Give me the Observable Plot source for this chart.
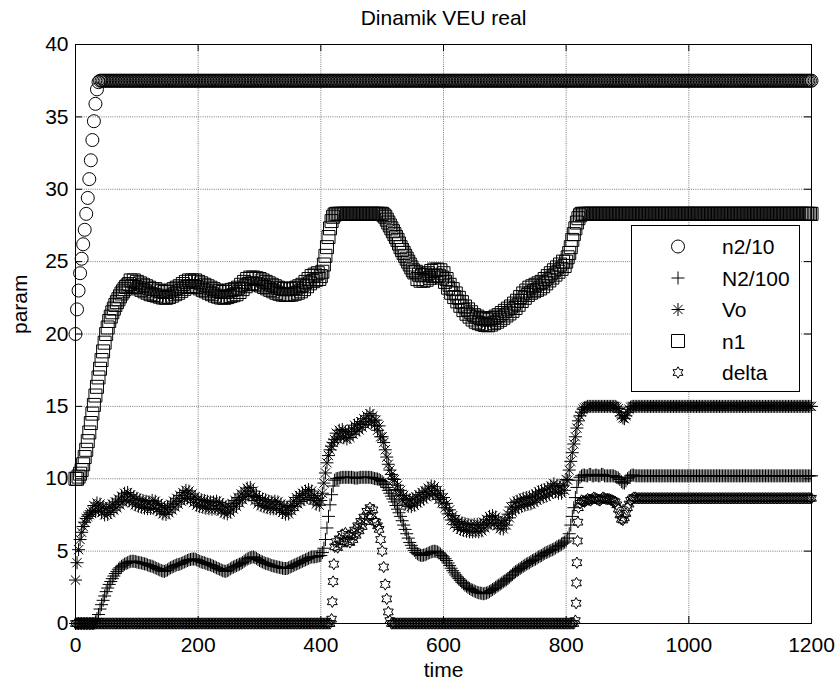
<!DOCTYPE html>
<html><head><meta charset="utf-8">
<script src="https://cdn.jsdelivr.net/npm/d3@7"></script>
<script src="https://cdn.jsdelivr.net/npm/@observablehq/plot@0.6"></script>
<style>
html,body{margin:0;padding:0;background:#fff;}
#chart{width:835px;height:682px;}
#err{position:absolute;left:100px;top:100px;color:red;font:16px sans-serif;}
</style></head><body><div id="chart"></div><div id="err"></div>
<script>
const title = "Dinamik VEU real";
const xLabel = "time";
const yLabel = "param";
const xTicks = [0,200,400,600,800,1000,1200];
const yTicks = [0,5,10,15,20,25,30,35,40];
const seriesNames = ["n2/10","N2/100","Vo","n1","delta"];

// sample times (one row = 50 time units)
const time = [
  0,2.5,5,7.5,10,12.5,15,17.5,20,22.5,25,27.5,30,32.5,35,37.5,40,42.5,45,47.5,
  50,52.5,55,57.5,60,62.5,65,67.5,70,72.5,75,77.5,80,82.5,85,87.5,90,92.5,95,97.5,
  100,102.5,105,107.5,110,112.5,115,117.5,120,122.5,125,127.5,130,132.5,135,137.5,140,142.5,145,147.5,
  150,152.5,155,157.5,160,162.5,165,167.5,170,172.5,175,177.5,180,182.5,185,187.5,190,192.5,195,197.5,
  200,202.5,205,207.5,210,212.5,215,217.5,220,222.5,225,227.5,230,232.5,235,237.5,240,242.5,245,247.5,
  250,252.5,255,257.5,260,262.5,265,267.5,270,272.5,275,277.5,280,282.5,285,287.5,290,292.5,295,297.5,
  300,302.5,305,307.5,310,312.5,315,317.5,320,322.5,325,327.5,330,332.5,335,337.5,340,342.5,345,347.5,
  350,352.5,355,357.5,360,362.5,365,367.5,370,372.5,375,377.5,380,382.5,385,387.5,390,392.5,395,397.5,
  400,402.5,405,407.5,410,412.5,415,417.5,420,422.5,425,427.5,430,432.5,435,437.5,440,442.5,445,447.5,
  450,452.5,455,457.5,460,462.5,465,467.5,470,472.5,475,477.5,480,482.5,485,487.5,490,492.5,495,497.5,
  500,502.5,505,507.5,510,512.5,515,517.5,520,522.5,525,527.5,530,532.5,535,537.5,540,542.5,545,547.5,
  550,552.5,555,557.5,560,562.5,565,567.5,570,572.5,575,577.5,580,582.5,585,587.5,590,592.5,595,597.5,
  600,602.5,605,607.5,610,612.5,615,617.5,620,622.5,625,627.5,630,632.5,635,637.5,640,642.5,645,647.5,
  650,652.5,655,657.5,660,662.5,665,667.5,670,672.5,675,677.5,680,682.5,685,687.5,690,692.5,695,697.5,
  700,702.5,705,707.5,710,712.5,715,717.5,720,722.5,725,727.5,730,732.5,735,737.5,740,742.5,745,747.5,
  750,752.5,755,757.5,760,762.5,765,767.5,770,772.5,775,777.5,780,782.5,785,787.5,790,792.5,795,797.5,
  800,802.5,805,807.5,810,812.5,815,817.5,820,822.5,825,827.5,830,832.5,835,837.5,840,842.5,845,847.5,
  850,852.5,855,857.5,860,862.5,865,867.5,870,872.5,875,877.5,880,882.5,885,887.5,890,892.5,895,897.5,
  900,902.5,905,907.5,910,912.5,915,917.5,920,922.5,925,927.5,930,932.5,935,937.5,940,942.5,945,947.5,
  950,952.5,955,957.5,960,962.5,965,967.5,970,972.5,975,977.5,980,982.5,985,987.5,990,992.5,995,997.5,
  1000,1002.5,1005,1007.5,1010,1012.5,1015,1017.5,1020,1022.5,1025,1027.5,1030,1032.5,1035,1037.5,1040,1042.5,1045,1047.5,
  1050,1052.5,1055,1057.5,1060,1062.5,1065,1067.5,1070,1072.5,1075,1077.5,1080,1082.5,1085,1087.5,1090,1092.5,1095,1097.5,
  1100,1102.5,1105,1107.5,1110,1112.5,1115,1117.5,1120,1122.5,1125,1127.5,1130,1132.5,1135,1137.5,1140,1142.5,1145,1147.5,
  1150,1152.5,1155,1157.5,1160,1162.5,1165,1167.5,1170,1172.5,1175,1177.5,1180,1182.5,1185,1187.5,1190,1192.5,1195,1197.5,
  1200
];

const n2_10 = [
  20.0,21.7,23.0,24.2,25.2,26.2,27.2,28.3,29.4,30.7,32.0,33.4,34.7,35.9,36.9,37.4,37.5,37.5,37.5,37.5,
  37.5,37.5,37.5,37.5,37.5,37.5,37.5,37.5,37.5,37.5,37.5,37.5,37.5,37.5,37.5,37.5,37.5,37.5,37.5,37.5,
  37.5,37.5,37.5,37.5,37.5,37.5,37.5,37.5,37.5,37.5,37.5,37.5,37.5,37.5,37.5,37.5,37.5,37.5,37.5,37.5,
  37.5,37.5,37.5,37.5,37.5,37.5,37.5,37.5,37.5,37.5,37.5,37.5,37.5,37.5,37.5,37.5,37.5,37.5,37.5,37.5,
  37.5,37.5,37.5,37.5,37.5,37.5,37.5,37.5,37.5,37.5,37.5,37.5,37.5,37.5,37.5,37.5,37.5,37.5,37.5,37.5,
  37.5,37.5,37.5,37.5,37.5,37.5,37.5,37.5,37.5,37.5,37.5,37.5,37.5,37.5,37.5,37.5,37.5,37.5,37.5,37.5,
  37.5,37.5,37.5,37.5,37.5,37.5,37.5,37.5,37.5,37.5,37.5,37.5,37.5,37.5,37.5,37.5,37.5,37.5,37.5,37.5,
  37.5,37.5,37.5,37.5,37.5,37.5,37.5,37.5,37.5,37.5,37.5,37.5,37.5,37.5,37.5,37.5,37.5,37.5,37.5,37.5,
  37.5,37.5,37.5,37.5,37.5,37.5,37.5,37.5,37.5,37.5,37.5,37.5,37.5,37.5,37.5,37.5,37.5,37.5,37.5,37.5,
  37.5,37.5,37.5,37.5,37.5,37.5,37.5,37.5,37.5,37.5,37.5,37.5,37.5,37.5,37.5,37.5,37.5,37.5,37.5,37.5,
  37.5,37.5,37.5,37.5,37.5,37.5,37.5,37.5,37.5,37.5,37.5,37.5,37.5,37.5,37.5,37.5,37.5,37.5,37.5,37.5,
  37.5,37.5,37.5,37.5,37.5,37.5,37.5,37.5,37.5,37.5,37.5,37.5,37.5,37.5,37.5,37.5,37.5,37.5,37.5,37.5,
  37.5,37.5,37.5,37.5,37.5,37.5,37.5,37.5,37.5,37.5,37.5,37.5,37.5,37.5,37.5,37.5,37.5,37.5,37.5,37.5,
  37.5,37.5,37.5,37.5,37.5,37.5,37.5,37.5,37.5,37.5,37.5,37.5,37.5,37.5,37.5,37.5,37.5,37.5,37.5,37.5,
  37.5,37.5,37.5,37.5,37.5,37.5,37.5,37.5,37.5,37.5,37.5,37.5,37.5,37.5,37.5,37.5,37.5,37.5,37.5,37.5,
  37.5,37.5,37.5,37.5,37.5,37.5,37.5,37.5,37.5,37.5,37.5,37.5,37.5,37.5,37.5,37.5,37.5,37.5,37.5,37.5,
  37.5,37.5,37.5,37.5,37.5,37.5,37.5,37.5,37.5,37.5,37.5,37.5,37.5,37.5,37.5,37.5,37.5,37.5,37.5,37.5,
  37.5,37.5,37.5,37.5,37.5,37.5,37.5,37.5,37.5,37.5,37.5,37.5,37.5,37.5,37.5,37.5,37.5,37.5,37.5,37.5,
  37.5,37.5,37.5,37.5,37.5,37.5,37.5,37.5,37.5,37.5,37.5,37.5,37.5,37.5,37.5,37.5,37.5,37.5,37.5,37.5,
  37.5,37.5,37.5,37.5,37.5,37.5,37.5,37.5,37.5,37.5,37.5,37.5,37.5,37.5,37.5,37.5,37.5,37.5,37.5,37.5,
  37.5,37.5,37.5,37.5,37.5,37.5,37.5,37.5,37.5,37.5,37.5,37.5,37.5,37.5,37.5,37.5,37.5,37.5,37.5,37.5,
  37.5,37.5,37.5,37.5,37.5,37.5,37.5,37.5,37.5,37.5,37.5,37.5,37.5,37.5,37.5,37.5,37.5,37.5,37.5,37.5,
  37.5,37.5,37.5,37.5,37.5,37.5,37.5,37.5,37.5,37.5,37.5,37.5,37.5,37.5,37.5,37.5,37.5,37.5,37.5,37.5,
  37.5,37.5,37.5,37.5,37.5,37.5,37.5,37.5,37.5,37.5,37.5,37.5,37.5,37.5,37.5,37.5,37.5,37.5,37.5,37.5,
  37.5
];

const N2_100 = [
  0,0,0,0,0,0,0,0,0,0,0,0,0,0.12,0.35,0.62,1.0,1.3,1.6,1.9,
  2.2,2.45,2.7,2.9,3.1,3.28,3.45,3.6,3.75,3.85,3.95,4.02,4.1,4.15,4.2,4.25,4.3,4.3,4.3,4.28,
  4.25,4.22,4.2,4.18,4.15,4.12,4.1,4.05,4.0,3.98,3.95,3.9,3.85,3.8,3.75,3.7,3.65,3.62,3.6,3.65,
  3.7,3.78,3.85,3.9,3.95,4.0,4.05,4.08,4.1,4.15,4.2,4.25,4.3,4.35,4.4,4.42,4.45,4.45,4.45,4.4,
  4.35,4.3,4.25,4.22,4.2,4.15,4.1,4.08,4.05,4.0,3.95,3.9,3.85,3.8,3.75,3.7,3.65,3.62,3.6,3.65,
  3.7,3.78,3.85,3.9,3.95,4.0,4.05,4.1,4.15,4.22,4.3,4.38,4.45,4.5,4.55,4.58,4.6,4.55,4.5,4.42,
  4.35,4.3,4.25,4.2,4.15,4.12,4.1,4.05,4.0,3.98,3.95,3.92,3.9,3.88,3.85,3.82,3.8,3.8,3.8,3.85,
  3.9,3.95,4.0,4.05,4.1,4.15,4.2,4.25,4.3,4.35,4.4,4.45,4.5,4.55,4.6,4.6,4.6,4.62,4.65,4.68,
  4.7,4.9,5.2,5.8,6.6,7.4,8.2,8.9,9.5,9.9,10.0,10.02,10.05,10.08,10.1,10.1,10.1,10.1,10.1,10.1,
  10.1,10.08,10.05,10.05,10.05,10.08,10.1,10.1,10.1,10.1,10.1,10.1,10.1,10.08,10.05,10.02,10.0,9.98,9.95,9.88,
  9.8,9.7,9.6,9.4,9.2,9.0,8.8,8.6,8.4,8.15,7.9,7.65,7.4,7.1,6.8,6.5,6.2,5.9,5.6,5.4,
  5.2,5.05,4.9,4.82,4.75,4.72,4.7,4.72,4.75,4.8,4.85,4.9,4.95,4.98,5.0,4.98,4.95,4.88,4.8,4.7,
  4.6,4.48,4.35,4.18,4.0,3.82,3.65,3.5,3.35,3.22,3.1,2.98,2.85,2.75,2.65,2.58,2.5,2.42,2.35,2.3,
  2.25,2.2,2.15,2.12,2.1,2.08,2.05,2.08,2.1,2.15,2.2,2.28,2.35,2.42,2.5,2.58,2.65,2.72,2.8,2.88,
  2.95,3.02,3.1,3.2,3.3,3.4,3.5,3.58,3.65,3.72,3.8,3.88,3.95,4.02,4.1,4.15,4.2,4.28,4.35,4.4,
  4.45,4.52,4.6,4.65,4.7,4.78,4.85,4.9,4.95,5.0,5.05,5.1,5.15,5.22,5.3,5.35,5.4,5.48,5.55,5.62,
  5.7,5.9,6.2,6.8,7.4,8.0,8.7,9.4,9.9,10.1,10.2,10.25,10.25,10.2,10.2,10.3,10.3,10.2,10.2,10.25,
  10.25,10.2,10.2,10.3,10.3,10.2,10.2,10.2,10.2,10.2,10.2,10.2,10.15,10.1,10.05,9.95,9.8,9.72,9.7,9.85,
  10.0,10.1,10.2,10.25,10.25,10.2,10.2,10.2,10.2,10.2,10.2,10.2,10.2,10.2,10.2,10.2,10.2,10.2,10.2,10.2,
  10.2,10.2,10.2,10.2,10.2,10.2,10.2,10.2,10.2,10.2,10.2,10.2,10.2,10.2,10.2,10.2,10.2,10.2,10.2,10.2,
  10.2,10.2,10.2,10.2,10.2,10.2,10.2,10.2,10.2,10.2,10.2,10.2,10.2,10.2,10.2,10.2,10.2,10.2,10.2,10.2,
  10.2,10.2,10.2,10.2,10.2,10.2,10.2,10.2,10.2,10.2,10.2,10.2,10.2,10.2,10.2,10.2,10.2,10.2,10.2,10.2,
  10.2,10.2,10.2,10.2,10.2,10.2,10.2,10.2,10.2,10.2,10.2,10.2,10.2,10.2,10.2,10.2,10.2,10.2,10.2,10.2,
  10.2,10.2,10.2,10.2,10.2,10.2,10.2,10.2,10.2,10.2,10.2,10.2,10.2,10.2,10.2,10.2,10.2,10.2,10.2,10.2,
  10.2
];

const Vo = [
  3.0,4.2,5.1,5.8,6.3,6.7,7.0,7.25,7.4,7.52,7.65,7.78,8.15,7.75,8.33,7.82,8.25,7.65,8.05,7.5,
  7.95,7.53,8.1,7.67,8.25,7.83,8.4,8.0,8.6,8.2,8.8,8.4,9.0,8.53,9.05,8.47,8.9,8.33,8.75,8.2,
  8.65,8.1,8.55,8.03,8.5,7.97,8.45,7.93,8.4,7.95,8.5,7.97,8.45,7.87,8.3,7.73,8.15,7.57,8.0,7.53,
  8.05,7.65,8.25,7.85,8.45,8.05,8.65,8.25,8.85,8.45,9.05,8.63,9.2,8.67,9.15,8.55,8.95,8.35,8.75,8.17,
  8.6,8.07,8.55,8.03,8.5,7.97,8.45,7.93,8.4,7.9,8.4,7.93,8.45,7.9,8.35,7.77,8.2,7.63,8.05,7.57,
  8.1,7.7,8.3,7.9,8.5,8.1,8.7,8.33,8.95,8.55,9.15,8.75,9.35,8.87,9.4,8.77,9.15,8.5,8.85,8.27,
  8.7,8.15,8.6,8.07,8.55,8.0,8.45,7.93,8.4,7.93,8.45,7.93,8.4,7.83,8.25,7.67,8.1,7.55,8.0,7.57,
  8.15,7.8,8.45,8.07,8.7,8.27,8.85,8.43,9.0,8.57,9.15,8.7,9.25,8.7,9.15,8.5,8.85,8.25,8.65,8.17,
  8.5,9.0,9.7,10.4,11.1,11.6,12.0,12.25,12.5,12.7,13.15,12.75,13.35,12.9,13.4,12.83,13.25,12.75,13.25,12.85,
  13.45,13.07,13.7,13.25,13.8,13.37,13.95,13.55,14.15,13.75,14.35,13.93,14.5,13.93,14.35,13.7,14.05,13.35,13.65,12.9,
  12.9,12.5,12.0,11.5,11.0,10.6,10.3,10.0,9.95,9.25,9.55,8.87,9.2,8.53,8.85,8.25,8.65,8.1,8.55,8.07,
  8.6,8.17,8.75,8.33,8.9,8.47,9.05,8.6,9.15,8.75,9.35,8.93,9.5,8.97,9.45,8.83,9.2,8.57,8.95,8.33,
  8.7,8.0,8.3,7.57,7.85,7.15,7.45,6.83,7.2,6.63,7.05,6.5,6.95,6.43,6.9,6.37,6.85,6.33,6.8,6.33,
  6.85,6.35,6.85,6.33,6.8,6.4,7.0,6.6,7.2,6.8,7.4,6.93,7.45,6.9,7.35,6.75,7.15,6.55,6.95,6.53,
  7.1,6.8,7.55,7.3,8.05,7.7,8.35,7.9,8.45,8.0,8.55,8.1,8.65,8.17,8.7,8.23,8.75,8.27,8.8,8.37,
  8.95,8.53,9.1,8.65,9.2,8.73,9.25,8.8,9.35,8.93,9.5,9.07,9.65,9.1,9.55,9.0,9.45,9.0,9.55,9.2,
  9.95,9.9,10.6,11.2,11.8,12.4,12.9,13.5,14.0,14.35,14.6,14.8,14.9,14.95,15.0,15.0,15.0,15.0,15.0,15.0,
  15.0,15.0,15.0,15.0,15.0,15.0,15.0,15.0,15.0,15.0,15.0,15.0,15.0,14.95,14.85,14.6,14.35,14.2,14.15,14.35,
  14.6,14.8,14.95,15.0,15.0,15.0,15.0,15.0,15.0,15.0,15.0,15.0,15.0,15.0,15.0,15.0,15.0,15.0,15.0,15.0,
  15.0,15.0,15.0,15.0,15.0,15.0,15.0,15.0,15.0,15.0,15.0,15.0,15.0,15.0,15.0,15.0,15.0,15.0,15.0,15.0,
  15.0,15.0,15.0,15.0,15.0,15.0,15.0,15.0,15.0,15.0,15.0,15.0,15.0,15.0,15.0,15.0,15.0,15.0,15.0,15.0,
  15.0,15.0,15.0,15.0,15.0,15.0,15.0,15.0,15.0,15.0,15.0,15.0,15.0,15.0,15.0,15.0,15.0,15.0,15.0,15.0,
  15.0,15.0,15.0,15.0,15.0,15.0,15.0,15.0,15.0,15.0,15.0,15.0,15.0,15.0,15.0,15.0,15.0,15.0,15.0,15.0,
  15.0,15.0,15.0,15.0,15.0,15.0,15.0,15.0,15.0,15.0,15.0,15.0,15.0,15.0,15.0,15.0,15.0,15.0,15.0,15.0,
  15.0
];

const n1 = [
  10.0,10.0,10.15,10.35,10.6,11.0,11.5,12.0,12.6,13.2,13.85,14.5,15.1,15.75,16.35,17.0,17.6,18.2,18.8,19.4,
  20.0,20.45,20.9,21.2,21.5,21.75,22.0,22.2,22.4,22.6,22.8,22.95,23.1,23.25,23.35,23.45,23.7,23.3,23.7,23.25,
  23.6,23.15,23.5,23.05,23.4,22.95,23.3,22.85,23.2,22.75,23.1,22.7,23.1,22.65,23.0,22.58,22.95,22.52,22.9,22.5,
  22.9,22.55,23.0,22.65,23.1,22.75,23.2,22.85,23.3,22.98,23.45,23.12,23.6,23.25,23.7,23.3,23.7,23.3,23.7,23.25,
  23.6,23.15,23.5,23.05,23.4,22.95,23.3,22.85,23.2,22.75,23.1,22.65,23.0,22.58,22.95,22.52,22.9,22.5,22.9,22.55,
  23.0,22.62,23.05,22.68,23.1,22.75,23.2,22.9,23.4,23.1,23.6,23.3,23.8,23.45,23.9,23.5,23.9,23.48,23.85,23.42,
  23.8,23.35,23.7,23.25,23.6,23.15,23.5,23.05,23.4,22.95,23.3,22.85,23.2,22.78,23.15,22.72,23.1,22.7,23.1,22.7,
  23.1,22.72,23.15,22.78,23.2,22.85,23.3,22.95,23.4,23.1,23.6,23.3,23.8,23.5,24.0,23.65,24.1,23.75,24.2,23.8,
  24.0,24.3,24.8,25.4,26.0,26.7,27.3,27.8,28.1,28.25,28.3,28.3,28.3,28.3,28.3,28.3,28.3,28.3,28.3,28.3,
  28.3,28.3,28.3,28.3,28.3,28.3,28.3,28.3,28.3,28.3,28.3,28.3,28.3,28.3,28.3,28.3,28.3,28.3,28.3,28.3,
  28.3,28.2,28.1,27.9,27.7,27.5,27.3,27.1,26.9,26.7,26.5,26.25,26.0,25.8,25.6,25.4,25.2,25.0,24.8,24.6,
  24.4,24.25,24.3,23.8,24.1,23.68,24.05,23.68,24.1,23.75,24.2,23.88,24.35,24.0,24.45,24.05,24.45,24.02,24.4,23.9,
  24.2,23.6,23.8,23.2,23.4,22.85,23.1,22.55,22.8,22.25,22.5,21.95,22.2,21.65,21.9,21.4,21.7,21.2,21.5,21.0,
  21.3,20.85,21.2,20.75,21.1,20.68,21.05,20.62,21.0,20.6,21.0,20.65,21.1,20.75,21.2,20.85,21.3,20.98,21.45,21.12,
  21.6,21.28,21.75,21.42,21.9,21.6,22.1,21.8,22.3,22.02,22.55,22.28,22.8,22.5,23.0,22.7,23.2,22.85,23.3,22.95,
  23.4,23.05,23.5,23.15,23.6,23.3,23.8,23.5,24.0,23.7,24.2,23.9,24.4,24.1,24.6,24.3,24.8,24.5,25.0,24.7,
  25.0,25.3,25.6,26.0,26.5,26.9,27.3,27.7,28.0,28.2,28.3,28.3,28.3,28.3,28.3,28.3,28.3,28.3,28.3,28.3,
  28.3,28.3,28.3,28.3,28.3,28.3,28.3,28.3,28.3,28.3,28.3,28.3,28.3,28.3,28.3,28.3,28.3,28.3,28.3,28.3,
  28.3,28.3,28.3,28.3,28.3,28.3,28.3,28.3,28.3,28.3,28.3,28.3,28.3,28.3,28.3,28.3,28.3,28.3,28.3,28.3,
  28.3,28.3,28.3,28.3,28.3,28.3,28.3,28.3,28.3,28.3,28.3,28.3,28.3,28.3,28.3,28.3,28.3,28.3,28.3,28.3,
  28.3,28.3,28.3,28.3,28.3,28.3,28.3,28.3,28.3,28.3,28.3,28.3,28.3,28.3,28.3,28.3,28.3,28.3,28.3,28.3,
  28.3,28.3,28.3,28.3,28.3,28.3,28.3,28.3,28.3,28.3,28.3,28.3,28.3,28.3,28.3,28.3,28.3,28.3,28.3,28.3,
  28.3,28.3,28.3,28.3,28.3,28.3,28.3,28.3,28.3,28.3,28.3,28.3,28.3,28.3,28.3,28.3,28.3,28.3,28.3,28.3,
  28.3,28.3,28.3,28.3,28.3,28.3,28.3,28.3,28.3,28.3,28.3,28.3,28.3,28.3,28.3,28.3,28.3,28.3,28.3,28.3,
  28.3
];

const delta = [
  0,0,0,0,0,0,0,0,0,0,0,0,0,0,0,0,0,0,0,0,
  0,0,0,0,0,0,0,0,0,0,0,0,0,0,0,0,0,0,0,0,
  0,0,0,0,0,0,0,0,0,0,0,0,0,0,0,0,0,0,0,0,
  0,0,0,0,0,0,0,0,0,0,0,0,0,0,0,0,0,0,0,0,
  0,0,0,0,0,0,0,0,0,0,0,0,0,0,0,0,0,0,0,0,
  0,0,0,0,0,0,0,0,0,0,0,0,0,0,0,0,0,0,0,0,
  0,0,0,0,0,0,0,0,0,0,0,0,0,0,0,0,0,0,0,0,
  0,0,0,0,0,0,0,0,0,0,0,0,0,0,0,0,0,0,0,0,
  0,0,0,0,0,0,0,0.3,2.9,5.3,5.65,5.25,5.85,5.5,6.15,5.7,6.25,5.65,6.05,5.6,
  6.15,5.8,6.45,6.1,6.75,6.4,7.05,6.7,7.35,7.05,7.75,7.37,8.0,7.45,7.85,7.05,7.0,6.75,6.5,5.8,
  5.0,3.9,2.7,1.7,0.8,0.2,0,0,0,0,0,0,0,0,0,0,0,0,0,0,
  0,0,0,0,0,0,0,0,0,0,0,0,0,0,0,0,0,0,0,0,
  0,0,0,0,0,0,0,0,0,0,0,0,0,0,0,0,0,0,0,0,
  0,0,0,0,0,0,0,0,0,0,0,0,0,0,0,0,0,0,0,0,
  0,0,0,0,0,0,0,0,0,0,0,0,0,0,0,0,0,0,0,0,
  0,0,0,0,0,0,0,0,0,0,0,0,0,0,0,0,0,0,0,0,
  0,0,0,0,0,0,0.2,4.2,8.0,8.3,8.5,8.45,8.4,8.5,8.6,8.55,8.5,8.6,8.7,8.65,
  8.6,8.55,8.5,8.6,8.7,8.65,8.6,8.6,8.6,8.55,8.5,8.45,8.4,8.2,7.9,7.5,7.2,7.15,7.3,7.6,
  8.0,8.25,8.5,8.6,8.7,8.7,8.65,8.65,8.65,8.65,8.65,8.65,8.65,8.65,8.65,8.65,8.65,8.65,8.65,8.65,
  8.65,8.65,8.65,8.65,8.65,8.65,8.65,8.65,8.65,8.65,8.65,8.65,8.65,8.65,8.65,8.65,8.65,8.65,8.65,8.65,
  8.65,8.65,8.65,8.65,8.65,8.65,8.65,8.65,8.65,8.65,8.65,8.65,8.65,8.65,8.65,8.65,8.65,8.65,8.65,8.65,
  8.65,8.65,8.65,8.65,8.65,8.65,8.65,8.65,8.65,8.65,8.65,8.65,8.65,8.65,8.65,8.65,8.65,8.65,8.65,8.65,
  8.65,8.65,8.65,8.65,8.65,8.65,8.65,8.65,8.65,8.65,8.65,8.65,8.65,8.65,8.65,8.65,8.65,8.65,8.65,8.65,
  8.65,8.65,8.65,8.65,8.65,8.65,8.65,8.65,8.65,8.65,8.65,8.65,8.65,8.65,8.65,8.65,8.65,8.65,8.65,8.65,
  8.65
];
// extra delta samples where the solver took small steps (vertical jumps)
const deltaExtraTime = [418.7, 421.2, 816.2, 816.8, 818.5, 819.2];
const deltaExtraValue = [1.5, 4.1, 1.4, 2.8, 5.7, 7.0];

// ---------- symbols (MATLAB-like markers) ----------
const rad = s => Math.sqrt(s / Math.PI);
const symCircle = {draw(c, s){ const r = rad(s); c.moveTo(r,0); c.arc(0,0,r,0,2*Math.PI); c.closePath(); }};
const symSquare = {draw(c, s){ const r = rad(s); c.moveTo(-r,-r); c.lineTo(r,-r); c.lineTo(r,r); c.lineTo(-r,r); c.closePath(); }};
const symPlus = {draw(c, s){ const r = rad(s); c.moveTo(-r,0); c.lineTo(r,0); c.moveTo(0,-r); c.lineTo(0,r); }};
const symAsterisk = {draw(c, s){ const r = rad(s), d = r*0.7071; c.moveTo(-r,0); c.lineTo(r,0); c.moveTo(0,-r); c.lineTo(0,r); c.moveTo(-d,-d); c.lineTo(d,d); c.moveTo(-d,d); c.lineTo(d,-d); }};
const symHexagram = {draw(c, s){ const r = rad(s), ri = r/Math.sqrt(3);
  for (let k = 0; k < 12; k++){ const a = -Math.PI/2 + k*Math.PI/6, rr = k%2 ? ri : r;
    const x = rr*Math.cos(a), y = rr*Math.sin(a); if (k===0) c.moveTo(x,y); else c.lineTo(x,y); }
  c.closePath(); }};

const seriesValues = [n2_10, N2_100, Vo, n1, delta];
const seriesSymbols = [symCircle, symPlus, symAsterisk, symSquare, symHexagram];
const seriesR = [6.5, 6.5, 6.5, 6.5, 5.7];

const bad = seriesValues.map((a,k)=>[seriesNames[k], a.length]).filter(([n,l])=>l!==time.length);
if (bad.length) document.getElementById("err").textContent = "len " + time.length + " vs " + JSON.stringify(bad);

const tables = seriesNames.map((name,k) => time.map((t,i) => ({name, t, v: seriesValues[k][i]})));
deltaExtraTime.forEach((t,i) => tables[4].push({name: "delta", t, v: deltaExtraValue[i]}));

const FONT = "'Liberation Sans', Arial, Helvetica, sans-serif";
const W = 835, H = 682, mL = 75, mR = 24, mT = 44, mB = 59;
const fw = W - mL - mR, fh = H - mT - mB, tickLen = 7;
const gridStyle = {stroke: "#7a7a7a", strokeWidth: 1, strokeDasharray: "1,1.2"};

const chart = Plot.plot({
  width: W, height: H,
  marginLeft: mL, marginRight: mR, marginTop: mT, marginBottom: mB,
  style: {fontFamily: FONT, fontSize: "21px", color: "black", background: "white", overflow: "visible"},
  x: {domain: [0, 1200], ticks: xTicks, tickSize: 0, tickPadding: 14, tickFormat: d => String(d), label: null},
  y: {domain: [0, 40], ticks: yTicks, tickSize: 0, tickPadding: 7, tickFormat: d => String(d), label: null},
  marks: [
    Plot.ruleX(xTicks, {x: d => d, ...gridStyle}),
    Plot.ruleY(yTicks, {y: d => d, ...gridStyle}),
    ...tables.map((tb,k) => Plot.dot(tb, {x: "t", y: "v", r: seriesR[k], symbol: seriesSymbols[k],
        fill: "none", stroke: "black", strokeWidth: 1})),
    Plot.frame({stroke: "black", strokeWidth: 1}),
    Plot.tickX(xTicks, {x: d => d, insetTop: fh - tickLen, stroke: "black"}),
    Plot.tickX(xTicks, {x: d => d, insetBottom: fh - tickLen, stroke: "black"}),
    Plot.tickY(yTicks, {y: d => d, insetRight: fw - tickLen, stroke: "black"}),
    Plot.tickY(yTicks, {y: d => d, insetLeft: fw - tickLen, stroke: "black"}),
    Plot.text([title], {text: d => d, frameAnchor: "top", lineAnchor: "middle", dy: -26}),
    Plot.text([xLabel], {text: d => d, frameAnchor: "bottom", lineAnchor: "middle", dy: 47}),
    Plot.text([yLabel], {text: d => d, frameAnchor: "left", lineAnchor: "middle", dx: -55, rotate: -90})
  ]
});
document.getElementById("chart").appendChild(chart);

// ---------- legend (MATLAB style box, upper right) ----------
const svg = d3.select(chart);
const lg = svg.append("g").attr("font-family", FONT).attr("font-size", 21).attr("text-anchor", "start");
lg.append("rect").attr("x", 631.5).attr("y", 225.5).attr("width", 168).attr("height", 166)
  .attr("fill", "white").attr("stroke", "black").attr("stroke-width", 1);
seriesNames.forEach((name, i) => {
  const y = 246.5 + i * 31.5;
  lg.append("path").attr("transform", `translate(678,${y})`)
    .attr("d", d3.symbol(seriesSymbols[i], Math.PI * seriesR[i] * seriesR[i])())
    .attr("fill", "none").attr("stroke", "black").attr("stroke-width", 1);
  lg.append("text").attr("x", 722).attr("y", y).attr("dy", "0.36em")
    .attr("text-anchor", "start").attr("fill", "black").text(name);
});
</script>
</body></html>
